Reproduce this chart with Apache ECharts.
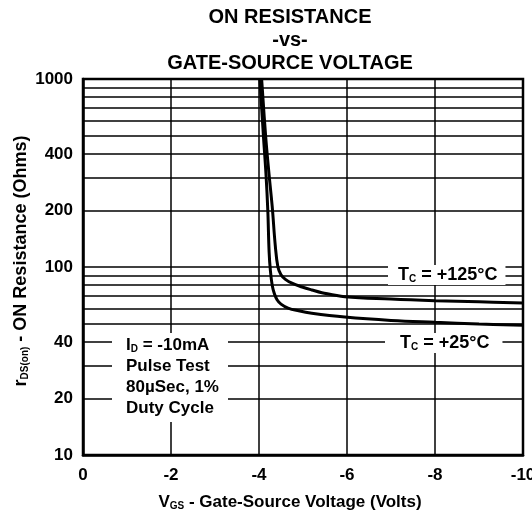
<!DOCTYPE html>
<html><head><meta charset="utf-8">
<script src="https://cdn.jsdelivr.net/npm/echarts@6/dist/echarts.min.js"></script>
<style>html,body{margin:0;padding:0;background:#fff}#c{width:532px;height:515px}</style>
</head><body><div id="c"></div>
<script>
// Data
const vgs25 = [-4.02, -4.10, -4.16, -4.20, -4.23, -4.26, -4.30, -4.35, -4.41, -4.50, -4.66, -4.90, -5.2, -5.95, -7.0, -8.0, -9.0, -10.0];
const r25   = [1000, 500, 308, 200, 120, 95, 80, 72, 67, 63.5, 60.5, 58.5, 56.8, 54.2, 52, 50.8, 49.8, 49];
const vgs125 = [-4.06, -4.15, -4.23, -4.30, -4.37, -4.43, -4.50, -4.60, -4.75, -4.98, -5.20, -5.43, -5.95, -7.0, -8.0, -9.0, -10.0];
const r125   = [1000, 500, 308, 210, 130, 100, 91, 86, 82, 78.3, 75.5, 73, 69.5, 67.5, 66.2, 65.3, 64.4];
const yTickValues = [10, 20, 30, 40, 50, 60, 70, 80, 90, 100, 200, 300, 400, 500, 600, 700, 800, 900, 1000];
const yLabelValues = [10, 20, 40, 100, 200, 400, 1000];
const xTicks = [0, -2, -4, -6, -8, -10];

const FONT = '"Liberation Sans", Arial, sans-serif';
const chart = echarts.init(document.getElementById('c'), null, {renderer: 'canvas'});
const pair = (xs, ys) => xs.map((x, i) => [x, ys[i]]);
const boxStyle = {fontFamily: FONT, fontWeight: 'bold', fontSize: 18, color: '#000', backgroundColor: '#fff'};
const blockStyle = {fontFamily: FONT, fontWeight: 'bold', fontSize: 17, color: '#000', lineHeight: 21};
const subStyle = {fontFamily: FONT, fontWeight: 'bold', fontSize: 10, color: '#000', padding: [8, 0, 0, 0]};

chart.setOption({
  animation: false,
  backgroundColor: '#fff',
  title: {
    text: 'ON RESISTANCE\n-vs-\nGATE-SOURCE VOLTAGE',
    left: 285, top: 1, textAlign: 'center',
    textStyle: {fontFamily: FONT, fontWeight: 'bold', fontSize: 20, lineHeight: 23, color: '#000'}
  },
  grid: {left: 83, right: 9, top: 79, bottom: 60, outerBoundsMode: 'none', containLabel: false,
    show: true, borderColor: '#000', borderWidth: 2.5, backgroundColor: 'transparent'},
  xAxis: {
    type: 'value', inverse: true, min: -10, max: 0, interval: 2,
    axisLine: {show: true, lineStyle: {color: '#000', width: 2.5}},
    axisTick: {show: false},
    axisLabel: {margin: 12, fontFamily: FONT, fontWeight: 'bold', fontSize: 17, color: '#000',
      customValues: xTicks},
    splitLine: {show: true, lineStyle: {color: '#000', width: 1.5}},
    name: '{n|V}{s|GS}{n| - Gate-Source Voltage (Volts)}',
    nameLocation: 'middle', nameGap: 38, nameMoveOverlap: false,
    nameTextStyle: {padding: [0, 26, 0, 0], rich: {
      n: {fontFamily: FONT, fontWeight: 'bold', fontSize: 17, color: '#000'},
      s: subStyle
    }}
  },
  yAxis: {
    type: 'log', logBase: 10, min: 10, max: 1000,
    axisLine: {show: true, lineStyle: {color: '#000', width: 2.5}},
    axisTick: {show: false, customValues: yTickValues},
    axisLabel: {margin: 10, fontFamily: FONT, fontWeight: 'bold', fontSize: 17, color: '#000',
      customValues: yLabelValues, formatter: v => String(Math.round(v))},
    splitLine: {show: true, lineStyle: {color: '#000', width: 1.5}},
    name: '{n|r}{s|DS(on)}{n| - ON Resistance (Ohms)}',
    nameLocation: 'middle', nameGap: 53, nameRotate: 90, nameMoveOverlap: false,
    nameTextStyle: {padding: [0, 0, 0, 12], rich: {
      n: {fontFamily: FONT, fontWeight: 'bold', fontSize: 18, color: '#000'},
      s: subStyle
    }}
  },
  series: [
    {name: '+125', type: 'line', data: pair(vgs125, r125), showSymbol: false, smooth: 0.4,
     lineStyle: {color: '#000', width: 3}, z: 3},
    {name: '+25', type: 'line', data: pair(vgs25, r25), showSymbol: false, smooth: 0.4,
     lineStyle: {color: '#000', width: 3}, z: 3}
  ],
  graphic: [
    {type: 'text', left: 388, top: 265, z: 10,
     style: {text: '{n|T}{s|C}{n| = +125°C}', padding: [1, 8, 1, 10], backgroundColor: '#fff',
       rich: {n: boxStyle, s: subStyle}}},
    {type: 'text', left: 385, top: 333, z: 10,
     style: {text: '{n|T}{s|C}{n| = +25°C}', padding: [1, 13, 1, 15], backgroundColor: '#fff',
       rich: {n: boxStyle, s: subStyle}}},
    {type: 'text', left: 112, top: 333, z: 10,
     style: {text: '{n|I}{s|D}{n| = -10mA}\n{n|Pulse Test}\n{n|80µSec, 1%}\n{n|Duty Cycle}',
       width: 102, padding: [2, 0, 3, 14], backgroundColor: '#fff',
       rich: {n: blockStyle, s: Object.assign({}, subStyle, {lineHeight: 21})}}}
  ]
});
</script></body></html>
